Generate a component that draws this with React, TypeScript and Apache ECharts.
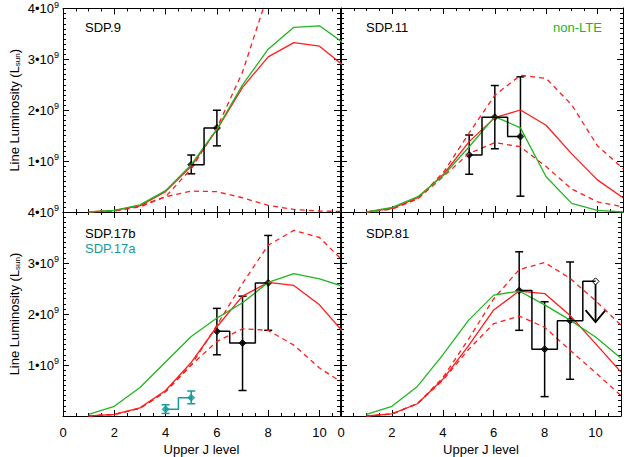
import React, { useEffect, useRef } from 'react';
import * as echarts from 'echarts';

// values in units of 1e9 L_sun, J = 1..11
const jLevels = [1, 2, 3, 4, 5, 6, 7, 8, 9, 10, 11];

const sdp9Green = [0, 0.03, 0.14, 0.42, 0.93, 1.63, 2.5, 3.2, 3.63, 3.66, 3.3];
const sdp9Red = [0, 0.03, 0.12, 0.4, 0.9, 1.62, 2.45, 3.05, 3.33, 3.26, 2.85];
const sdp9Upper = [0, 0.02, 0.1, 0.3, 0.85, 1.65, 2.75, 4.3, 5.5, 6, 6];
const sdp9Lower = [0, 0.02, 0.12, 0.3, 0.41, 0.4, 0.28, 0.13, 0.05, 0.02, 0.01];
const sdp9Obs = [[5, 0.93, 0.75, 1.12], [6, 1.65, 1.3, 2.0]];

const sdp11Green = [0, 0.09, 0.3, 0.72, 1.28, 1.87, 1.65, 0.69, 0.17, 0.03, 0];
const sdp11Red = [0, 0.07, 0.28, 0.74, 1.38, 1.85, 2.0, 1.7, 1.14, 0.63, 0.28];
const sdp11Upper = [0, 0.06, 0.26, 0.78, 1.55, 2.29, 2.68, 2.62, 2.1, 1.3, 0.85];
const sdp11Lower = [0, 0.06, 0.26, 0.7, 1.15, 1.36, 1.28, 0.89, 0.45, 0.2, 0.1];
const sdp11Obs = [[5, 1.12, 0.74, 1.51], [6, 1.86, 1.24, 2.48], [7, 1.48, 0.31, 2.65]];

const sdp17Green = [0.03, 0.19, 0.56, 1.06, 1.56, 1.92, 2.22, 2.62, 2.79, 2.69, 2.53];
const sdp17Red = [0, 0.03, 0.16, 0.5, 1.05, 1.75, 2.35, 2.62, 2.56, 2.18, 1.6];
const sdp17Upper = [0, 0.03, 0.15, 0.48, 1.0, 1.78, 2.6, 3.35, 3.64, 3.5, 3.0];
const sdp17Lower = [0, 0.03, 0.15, 0.48, 1.0, 1.46, 1.71, 1.68, 1.39, 0.94, 0.62];
const sdp17bObs = [[6, 1.66, 1.2, 2.11], [7, 1.43, 0.5, 2.35], [8, 2.61, 1.68, 3.54]];
const sdp17aObs = [[4, 0.13, 0.05, 0.22], [5, 0.36, 0.24, 0.49]];

const sdp81Green = [0.03, 0.19, 0.58, 1.2, 1.87, 2.37, 2.45, 2.18, 1.88, 1.55, 1.13];
const sdp81Red = [0, 0.04, 0.24, 0.72, 1.37, 2.08, 2.45, 2.4, 1.97, 1.42, 0.86];
const sdp81Upper = [0, 0.04, 0.24, 0.75, 1.5, 2.3, 2.87, 3.01, 2.7, 2.26, 1.78];
const sdp81Lower = [0, 0.04, 0.24, 0.7, 1.3, 1.81, 1.96, 1.74, 1.29, 0.85, 0.4];
const sdp81Obs = [[7, 2.46, 1.68, 3.22], [8, 1.31, 0.38, 2.24], [9, 1.87, 0.72, 3.02]];
const sdp81Limit = [[10, 2.64, 1.84]];

const yTicks = [1, 2, 3, 4];
const xTicks = [0, 2, 4, 6, 8, 10];

const GREEN = '#22b522';
const RED = '#ff1c1c';
const TEAL = '#159a9a';
const FONT = 'Liberation Sans, Arial, sans-serif';

const grids = [
  { left: 63, top: 8, width: 277, height: 204 },
  { left: 341, top: 8, width: 282, height: 204 },
  { left: 63, top: 212, width: 277, height: 207 },
  { left: 341, top: 212, width: 282, height: 207 },
];
const xMax = [10.8, 11, 10.8, 11];

const panels = [
  { green: sdp9Green, red: sdp9Red, upper: sdp9Upper, lower: sdp9Lower, obs: [{ d: sdp9Obs, c: '#000' }] },
  { green: sdp11Green, red: sdp11Red, upper: sdp11Upper, lower: sdp11Lower, obs: [{ d: sdp11Obs, c: '#000' }] },
  {
    green: sdp17Green, red: sdp17Red, upper: sdp17Upper, lower: sdp17Lower,
    obs: [{ d: sdp17bObs, c: '#000' }, { d: sdp17aObs, c: TEAL }],
  },
  { green: sdp81Green, red: sdp81Red, upper: sdp81Upper, lower: sdp81Lower, obs: [{ d: sdp81Obs, c: '#000', lim: sdp81Limit }] },
];

const pair = (ys: number[]) => jLevels.map((j, i) => [j, ys[i]]);

const App: React.FC = () => {
  const chartRef = useRef<HTMLDivElement>(null);

  useEffect(() => {
    if (!chartRef.current) return;
    const chart = echarts.init(chartRef.current, null, { renderer: 'svg' });

    const xAxis: any[] = [];
    const yAxis: any[] = [];
    const series: any[] = [];

    grids.forEach((_, i) => {
      const bottomRow = i >= 2;
      const leftCol = i % 2 === 0;
      const lineStyle = { color: '#000', width: 1 };
      ['bottom', 'top'].forEach((pos) => {
        const main = pos === 'bottom';
        xAxis.push({
          type: 'value', gridIndex: i, position: pos, min: 0, max: xMax[i], interval: 2,
          axisLine: { lineStyle, onZero: false },
          axisTick: { inside: true, length: 6, lineStyle },
          minorTick: { show: true, splitNumber: 4, length: 3, lineStyle },
          splitLine: { show: false },
          axisLabel: {
            show: main && bottomRow, color: '#000', fontSize: 13, fontFamily: FONT, margin: 10,
            formatter: (v: number) => (xTicks.includes(v) ? String(v) : ''),
          },
          name: main && bottomRow ? 'Upper J level' : '',
          nameLocation: 'middle', nameGap: 27,
          nameTextStyle: { color: '#000', fontSize: 13, fontFamily: FONT },
        });
      });
      ['left', 'right'].forEach((pos) => {
        const main = pos === 'left';
        yAxis.push({
          type: 'value', gridIndex: i, position: pos, min: 0, max: 4, interval: 1,
          axisLine: { lineStyle, onZero: false },
          axisTick: { inside: true, length: 6, lineStyle },
          minorTick: { show: true, splitNumber: 10, length: 3, lineStyle },
          splitLine: { show: false },
          axisLabel: {
            show: main && leftCol, color: '#000', fontSize: 13, fontFamily: FONT, margin: 4,
            formatter: (v: number) => (yTicks.includes(v) ? `{a|${v}•10}{s|9}` : ''),
            rich: {
              a: { fontSize: 13, fontFamily: FONT, color: '#000' },
              s: { fontSize: 9, fontFamily: FONT, color: '#000', verticalAlign: 'top', padding: [0, 0, 8, 0] },
            },
          },
          name: main && leftCol ? '{a|Line Luminosity (L}{s|sun}{a|)}' : '',
          nameLocation: 'middle', nameGap: 42,
          nameTextStyle: {
            rich: {
              a: { fontSize: 13, fontFamily: FONT, color: '#000' },
              s: { fontSize: 8, fontFamily: FONT, color: '#000', padding: [6, 0, 0, 0] },
            },
          },
        });
      });

      const p = panels[i];
      const ax = { xAxisIndex: i * 2, yAxisIndex: i * 2 };
      const line = (data: number[], color: string, dashed: boolean) => ({
        type: 'line', ...ax, data: pair(data), symbol: 'none', clip: true,
        lineStyle: { color, width: 1.3, type: dashed ? [5, 4] : 'solid' },
      });
      series.push(line(p.lower, RED, true), line(p.upper, RED, true), line(p.red, RED, false), line(p.green, GREEN, false));

      p.obs.forEach((o: any) => {
        const stepPts = o.d.map((r: number[]) => [r[0], r[1]]);
        if (o.lim) o.lim.forEach((r: number[]) => stepPts.push([r[0], r[1]]));
        series.push({
          type: 'line', ...ax, data: stepPts, step: 'middle', symbol: 'none',
          lineStyle: { color: o.c, width: 1.5 },
        });
        series.push({
          type: 'custom', ...ax, data: o.d.map((r: number[]) => [r[0], r[2], r[3]]),
          encode: { x: 0, y: [1, 2] },
          renderItem: (_p: any, api: any) => {
            const x = api.value(0);
            const lo = api.coord([x, api.value(1)]);
            const hi = api.coord([x, api.value(2)]);
            const st = { stroke: o.c, lineWidth: 1.5 };
            return {
              type: 'group',
              children: [
                { type: 'line', shape: { x1: lo[0], y1: lo[1], x2: hi[0], y2: hi[1] }, style: st },
                { type: 'line', shape: { x1: lo[0] - 4, y1: lo[1], x2: lo[0] + 4, y2: lo[1] }, style: st },
                { type: 'line', shape: { x1: hi[0] - 4, y1: hi[1], x2: hi[0] + 4, y2: hi[1] }, style: st },
              ],
            };
          },
        });
        series.push({
          type: 'scatter', ...ax, data: stepPts.slice(0, o.d.length), symbol: 'diamond', symbolSize: 7,
          itemStyle: { color: o.c, borderColor: o.c },
        });
        if (o.lim) {
          series.push({
            type: 'custom', ...ax, data: o.lim, encode: { x: 0, y: [1, 2] },
            renderItem: (_p: any, api: any) => {
              const x = api.value(0);
              const top = api.coord([x, api.value(1)]);
              const bot = api.coord([x, api.value(2)]);
              const st = { stroke: '#000', lineWidth: 1.8, fill: 'none' };
              return {
                type: 'group',
                children: [
                  { type: 'line', shape: { x1: top[0], y1: top[1], x2: bot[0], y2: bot[1] }, style: st },
                  {
                    type: 'polyline',
                    shape: { points: [[bot[0] - 10, bot[1] - 12], [bot[0], bot[1]], [bot[0] + 10, bot[1] - 12]] },
                    style: st,
                  },
                  { type: 'polygon', shape: { points: [[top[0], top[1] - 3.5], [top[0] + 3.5, top[1]], [top[0], top[1] + 3.5], [top[0] - 3.5, top[1]]] }, style: { stroke: '#000', fill: '#fff', lineWidth: 1 } },
                ],
              };
            },
          });
        }
      });
    });

    const txt = (x: number, y: number, text: string, color = '#000') => ({
      type: 'text', left: x, top: y, style: { text, fill: color, font: `13px ${FONT}` },
    });

    chart.setOption({
      animation: false,
      grid: grids.map((g) => ({ ...g, containLabel: false })),
      xAxis,
      yAxis,
      series,
      graphic: [
        txt(85, 21, 'SDP.9'),
        txt(366, 21, 'SDP.11'),
        txt(553, 21, 'non-LTE', GREEN),
        txt(85, 227, 'SDP.17b'),
        txt(85, 242, 'SDP.17a', TEAL),
        txt(366, 227, 'SDP.81'),
      ],
    });

    return () => chart.dispose();
  }, []);

  return <div ref={chartRef} style={{ position: 'fixed', left: 0, top: 0, width: 624, height: 457, background: '#fff' }} />;
};

export default App;
